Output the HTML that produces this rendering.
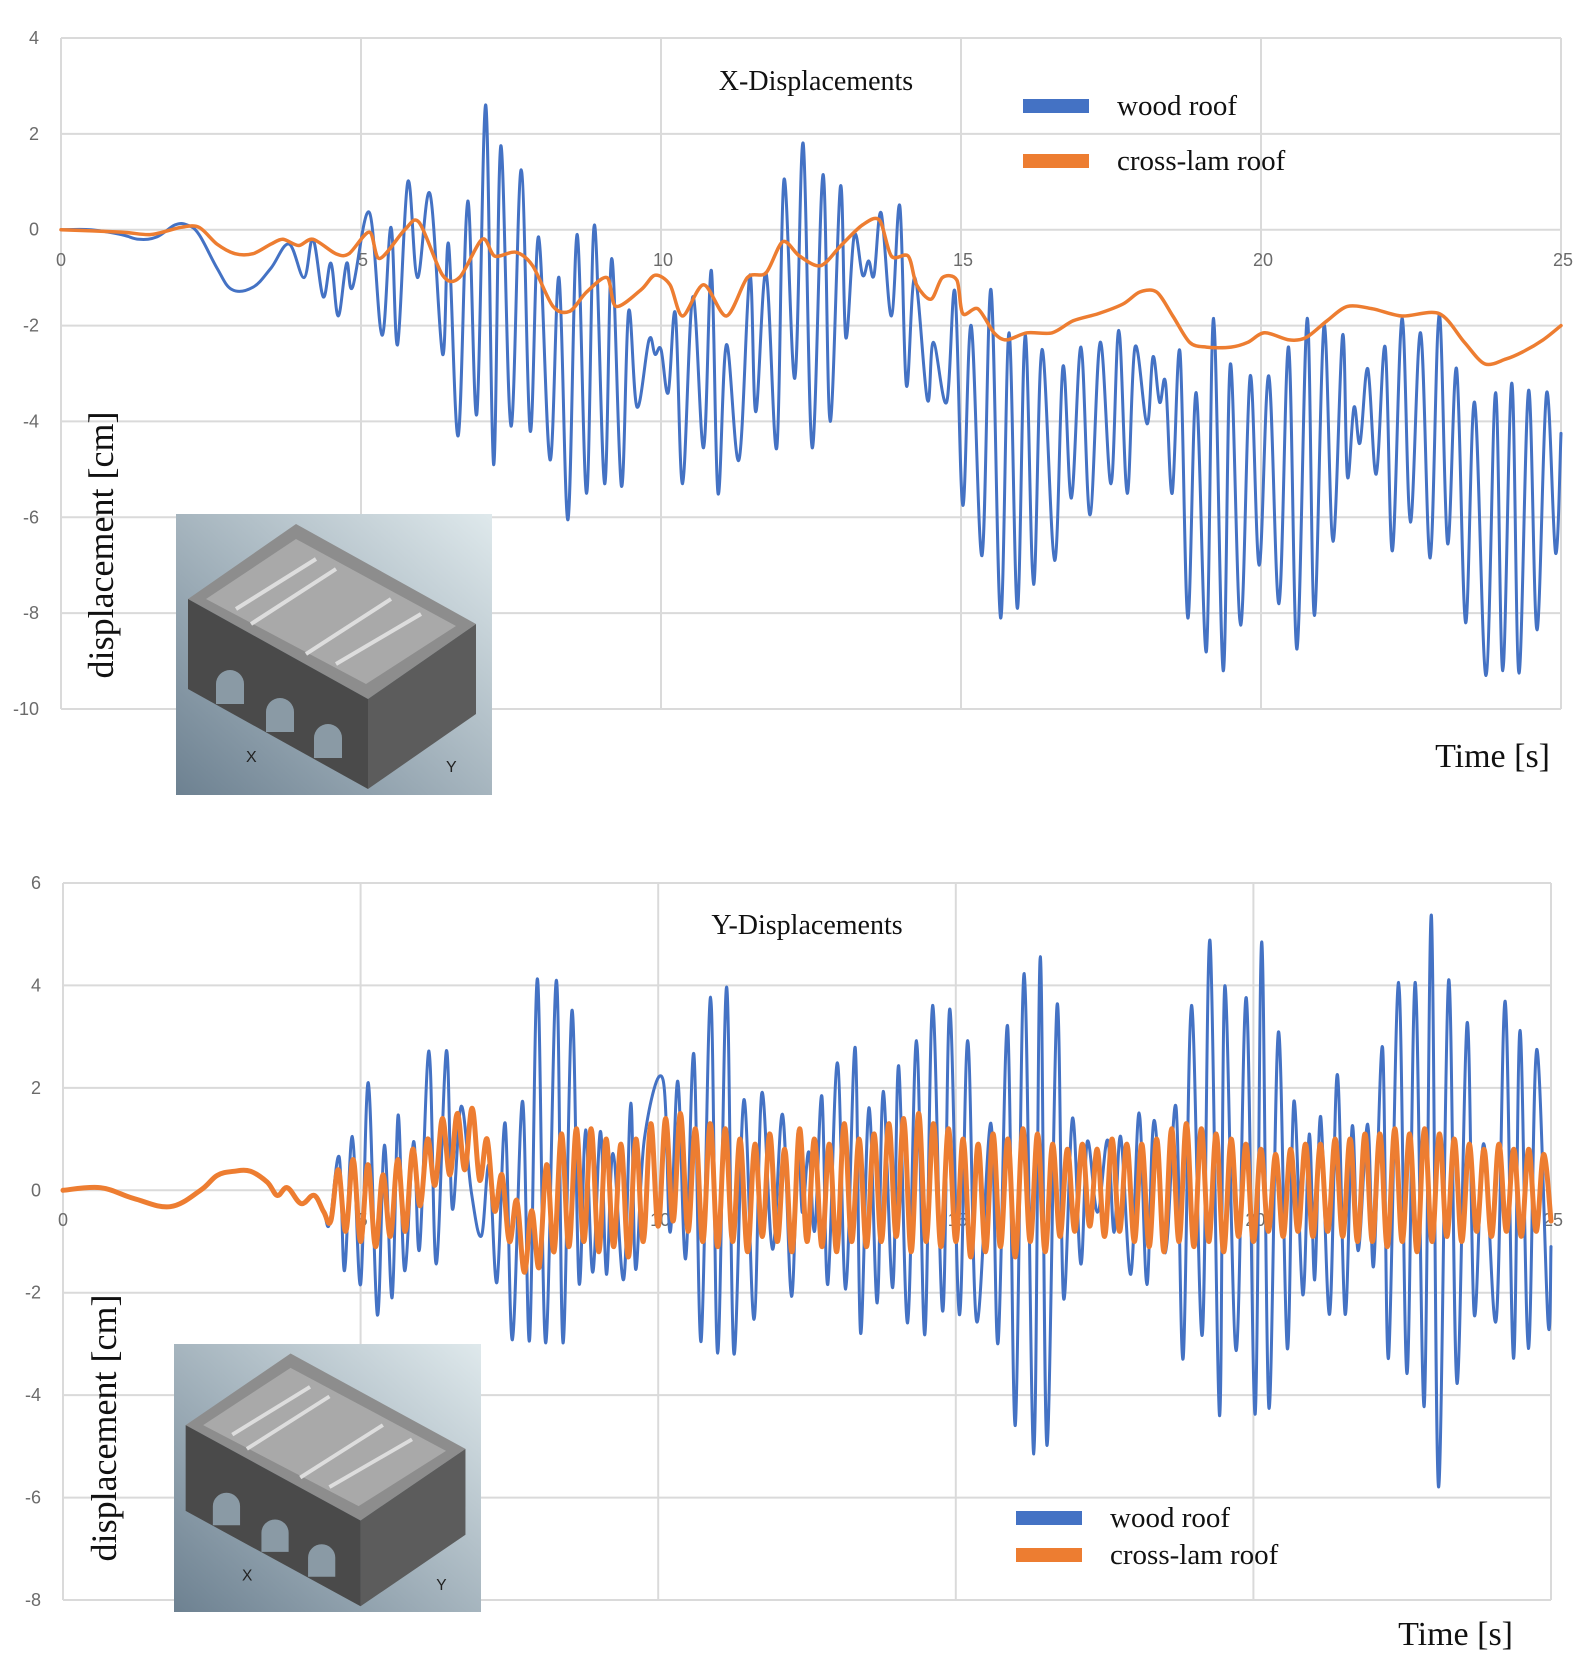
<!DOCTYPE html>
<html><head><meta charset="utf-8"><style>
html,body{margin:0;padding:0;background:#fff;}
svg{display:block;}
.tick{font-family:"Liberation Sans",sans-serif;font-size:18px;fill:#6b6b6b;}
.ser{font-family:"Liberation Serif",serif;fill:#111;}
</style></head><body>
<svg id="fig" width="1582" height="1674" viewBox="0 0 1582 1674">
<defs>
<linearGradient id="bg" x1="0" y1="1" x2="1" y2="0"><stop offset="0" stop-color="#6d8191"/><stop offset="1" stop-color="#dfe9ec"/></linearGradient>
<g id="bld">
<rect x="0" y="0" width="316" height="281" fill="url(#bg)"/>
<polygon points="12,85 120,10 300,110 192,185" fill="#8d8d8d"/>
<polygon points="12,85 192,185 192,275 12,175" fill="#4a4a4a"/>
<polygon points="192,185 300,110 300,200 192,275" fill="#5c5c5c"/>
<polygon points="30,85 120,25 280,112 190,170" fill="#a9a9a9"/>
<line x1="60" y1="95" x2="140" y2="45" stroke="#ddd" stroke-width="4"/>
<line x1="75" y1="110" x2="160" y2="55" stroke="#ddd" stroke-width="4"/>
<line x1="130" y1="140" x2="215" y2="85" stroke="#ddd" stroke-width="4"/>
<line x1="160" y1="150" x2="245" y2="100" stroke="#ddd" stroke-width="4"/>
<path d="M40,170 a14,14 0 0 1 28,0 v20 h-28z M90,198 a14,14 0 0 1 28,0 v20 h-28z M138,224 a14,14 0 0 1 28,0 v20 h-28z" fill="#8a9aa5"/>
<text x="70" y="248" font-family="Liberation Sans,sans-serif" font-size="16" fill="#222">X</text>
<text x="270" y="258" font-family="Liberation Sans,sans-serif" font-size="16" fill="#222">Y</text>
</g>
</defs>
<g id="top"></g>
<g id="bot"></g>
</svg>
<script>
// ---- X chart data (extrema) ----
const xWoodT=[0,0.5,1.0,1.3,1.6,1.9,2.1,2.3,2.6,2.85,3.2,3.5,3.8,4.05,4.2,4.37,4.5,4.62,4.76,4.86,5.14,5.35,5.5,5.61,5.78,5.94,6.15,6.36,6.46,6.62,6.78,6.93,7.08,7.21,7.33,7.5,7.67,7.82,7.96,8.15,8.3,8.45,8.6,8.76,8.89,9.06,9.18,9.34,9.46,9.6,9.8,9.9,10.0,10.12,10.24,10.36,10.53,10.71,10.84,10.95,11.09,11.3,11.48,11.58,11.75,11.93,12.05,12.23,12.37,12.52,12.7,12.82,12.99,13.08,13.22,13.36,13.46,13.55,13.67,13.84,13.98,14.09,14.23,14.44,14.54,14.76,14.9,15.03,15.17,15.35,15.5,15.66,15.8,15.94,16.07,16.21,16.35,16.56,16.7,16.84,17.0,17.15,17.32,17.5,17.63,17.77,17.9,18.1,18.2,18.31,18.41,18.52,18.65,18.78,18.92,19.09,19.21,19.37,19.49,19.66,19.82,19.97,20.13,20.3,20.46,20.6,20.77,20.89,21.05,21.2,21.36,21.44,21.55,21.65,21.78,21.92,22.07,22.19,22.35,22.49,22.66,22.82,22.97,23.11,23.26,23.41,23.56,23.75,23.91,24.03,24.18,24.3,24.46,24.6,24.76,24.91,25.0];
const xWoodV=[0,0,-0.1,-0.2,-0.15,0.1,0.1,-0.1,-0.8,-1.25,-1.2,-0.8,-0.3,-1.0,-0.2,-1.4,-0.7,-1.8,-0.7,-1.2,0.36,-2.2,0.05,-2.4,1.0,-1.0,0.75,-2.6,-0.3,-4.3,0.6,-3.85,2.6,-4.9,1.75,-4.1,1.25,-4.2,-0.15,-4.8,-1.0,-6.05,-0.1,-5.5,0.1,-5.3,-0.6,-5.35,-1.7,-3.7,-2.3,-2.6,-2.5,-3.4,-1.75,-5.3,-1.4,-4.55,-0.85,-5.5,-2.4,-4.8,-0.95,-3.8,-0.9,-4.55,1.05,-3.1,1.8,-4.55,1.15,-4.0,0.9,-2.25,-0.12,-0.95,-0.65,-0.95,0.35,-1.8,0.5,-3.25,-1.0,-3.55,-2.35,-3.6,-1.3,-5.75,-2.0,-6.8,-1.25,-8.1,-2.15,-7.9,-2.2,-7.4,-2.5,-6.9,-2.85,-5.6,-2.45,-5.95,-2.35,-5.3,-2.1,-5.5,-2.45,-4.05,-2.65,-3.6,-3.2,-5.5,-2.55,-8.1,-3.4,-8.8,-1.85,-9.2,-2.8,-8.25,-3.05,-7.0,-3.05,-7.8,-2.45,-8.75,-1.85,-8.05,-2.0,-6.5,-2.2,-5.15,-3.7,-4.45,-2.9,-5.1,-2.45,-6.7,-1.85,-6.1,-2.15,-6.85,-1.75,-6.55,-2.9,-8.2,-3.6,-9.3,-3.4,-9.2,-3.2,-9.25,-3.35,-8.35,-3.4,-6.75,-4.25];
const xLamT=[0,1,1.5,2,2.3,2.6,2.9,3.2,3.5,3.7,3.96,4.2,4.58,4.8,5.14,5.31,5.73,5.97,6.36,6.64,7.02,7.23,7.58,7.86,8.2,8.48,8.76,9.1,9.25,9.67,9.9,10.15,10.36,10.71,11.09,11.44,11.75,12.03,12.31,12.66,13.0,13.36,13.64,13.84,14.12,14.26,14.5,14.69,14.93,15.03,15.28,15.55,15.76,16.1,16.52,16.87,17.29,17.7,17.98,18.26,18.53,18.81,19.09,19.5,19.78,20.06,20.47,20.75,21.1,21.44,21.86,22.35,22.97,23.39,23.73,24.08,24.36,24.7,25.0];
const xLamV=[0,-0.05,-0.1,0.05,0.05,-0.3,-0.5,-0.5,-0.3,-0.2,-0.33,-0.2,-0.5,-0.5,-0.05,-0.6,0.0,0.15,-0.95,-1.0,-0.2,-0.55,-0.47,-0.75,-1.6,-1.7,-1.3,-1.0,-1.6,-1.25,-0.95,-1.15,-1.8,-1.15,-1.8,-1.0,-0.9,-0.25,-0.55,-0.75,-0.33,0.1,0.2,-0.55,-0.55,-1.15,-1.45,-1.0,-1.05,-1.75,-1.65,-2.15,-2.3,-2.15,-2.15,-1.9,-1.75,-1.55,-1.3,-1.3,-1.8,-2.35,-2.45,-2.45,-2.35,-2.15,-2.3,-2.25,-1.9,-1.6,-1.65,-1.8,-1.75,-2.35,-2.8,-2.7,-2.55,-2.3,-2.0];
const xTicksY=[4,2,0,-2,-4,-6,-8,-10];
const xTicksT=[0,5,10,15,20,25];

// ---- Y chart data ----
const earlyT=[0,0.63,1.19,1.8,2.31,2.59,2.87,3.15,3.43,3.6,3.77,4.0,4.22,4.38];
const earlyV=[0,0.05,-0.16,-0.32,0,0.29,0.37,0.37,0.16,-0.1,0.05,-0.26,-0.1,-0.42];
const yWoodT=[4.48,4.64,4.73,4.86,5.0,5.13,5.28,5.4,5.53,5.63,5.74,5.89,5.99,6.15,6.27,6.44,6.54,6.69,6.86,7.03,7.16,7.29,7.43,7.55,7.72,7.84,7.97,8.11,8.29,8.4,8.55,8.67,8.78,8.9,9.03,9.13,9.24,9.42,9.54,9.62,9.77,10.08,10.2,10.33,10.46,10.6,10.72,10.88,11.0,11.15,11.27,11.44,11.61,11.74,11.92,12.09,12.24,12.35,12.42,12.53,12.63,12.75,12.85,13.01,13.15,13.31,13.4,13.54,13.68,13.78,13.94,14.04,14.19,14.34,14.48,14.61,14.78,14.9,15.06,15.2,15.35,15.59,15.71,15.87,16.0,16.15,16.31,16.42,16.53,16.7,16.81,16.96,17.1,17.21,17.38,17.55,17.66,17.77,17.94,18.08,18.21,18.33,18.52,18.7,18.82,18.96,19.14,19.27,19.43,19.52,19.71,19.88,20.03,20.14,20.26,20.42,20.57,20.68,20.83,20.94,21.03,21.13,21.28,21.41,21.54,21.66,21.76,21.92,22.02,22.17,22.27,22.44,22.58,22.72,22.87,22.99,23.11,23.28,23.42,23.59,23.71,23.87,24.08,24.23,24.37,24.48,24.62,24.76,24.95,25.0];
const yWoodV=[-0.65,0.65,-1.57,1.05,-1.84,2.1,-2.43,0.88,-2.1,1.47,-1.57,0.95,-1.15,2.72,-1.44,2.72,-0.36,1.64,-0.03,-0.89,0.49,-1.8,1.31,-2.92,1.74,-2.92,4.13,-2.98,4.1,-2.98,3.51,-1.8,1.18,-1.6,1.15,-1.64,0.72,-1.74,1.7,-1.54,1.02,2.16,-0.82,2.13,-1.34,2.66,-2.95,3.77,-3.18,3.97,-3.18,1.77,-2.52,1.9,-1.15,1.48,-2.07,1.15,-0.43,0.75,-0.79,1.84,-1.84,2.49,-1.93,2.79,-2.79,1.61,-2.2,1.93,-1.9,2.43,-2.59,2.92,-2.82,3.61,-2.36,3.54,-2.43,2.92,-2.56,1.31,-2.98,3.21,-4.59,4.23,-5.15,4.56,-4.98,3.61,-2.1,1.41,-1.44,0.95,-0.43,0.98,-0.82,1.05,-1.64,1.51,-1.84,1.36,-1.22,1.63,-3.28,3.61,-2.83,4.88,-4.4,3.99,-3.13,3.76,-4.37,4.85,-4.25,3.09,-3.09,1.74,-2.04,1.1,-1.75,1.44,-2.42,2.26,-2.42,1.25,-1.18,1.29,-1.48,2.79,-3.28,4.06,-3.58,4.06,-4.22,5.37,-5.79,4.1,-3.77,3.27,-2.42,0.91,-2.53,3.69,-3.28,3.12,-3.09,2.75,-2.57,-1.1];
const yLamStart=4.5, yLamStep=0.125;
const yLamV=[-0.6,0.4,-0.8,0.6,
-1.0,0.5,-1.1,0.3,-0.9,0.6,-0.8,0.8,
-0.3,1.0,0.1,1.4,0.3,1.5,0.4,1.6,
0.2,1.0,-0.4,0.3,-1.0,-0.2,-1.6,-0.4,
-1.5,0.5,-1.2,1.1,-1.1,1.2,-1.0,1.2,
-1.2,1.0,-1.1,0.9,-1.3,1.0,-1.0,1.3,
-0.7,1.4,-0.6,1.5,-0.8,1.2,-1.0,1.3,
-1.1,1.2,-1.0,1.0,-1.2,0.9,-0.9,1.1,
-1.0,0.8,-1.2,1.2,-1.0,1.0,-1.1,0.9,
-1.2,1.3,-1.0,1.0,-1.1,1.1,-1.0,1.3,
-0.9,1.4,-1.2,1.5,-1.0,1.3,-1.1,1.2,
-1.0,1.0,-1.3,0.9,-1.2,1.1,-1.1,1.0,
-1.3,1.2,-1.0,1.1,-1.2,0.9,-0.9,0.8,
-0.8,0.9,-0.7,0.8,-0.9,1.0,-0.8,0.9,
-1.0,0.9,-1.1,1.0,-1.2,1.2,-1.0,1.3,
-1.1,1.2,-1.0,1.1,-1.2,1.0,-0.9,0.9,
-1.0,0.8,-0.8,0.7,-0.9,0.8,-0.8,0.9,
-0.9,0.9,-0.8,1.0,-0.9,1.0,-1.0,1.1,
-1.0,1.1,-1.1,1.2,-1.0,1.1,-1.2,1.2,
-1.0,1.1,-0.9,1.0,-1.0,0.9,-0.8,0.8,
-0.9,0.9,-0.8,0.8,-0.9,0.8,-0.8,0.7,-0.6];
const yTicksY=[6,4,2,0,-2,-4,-6,-8];
const yTicksT=[0,5,10,15,20,25];

const NS='http://www.w3.org/2000/svg';
function mk(tag,attrs,parent){const e=document.createElementNS(NS,tag);for(const k in attrs)e.setAttribute(k,attrs[k]);parent.appendChild(e);return e;}

function chart(g,cfg){
  const sx=t=>cfg.x0+(t-0)/25*(cfg.x1-cfg.x0);
  const sy=v=>cfg.yTop+(cfg.vMax-v)/(cfg.vMax-cfg.vMin)*(cfg.yBot-cfg.yTop);
  cfg.ticksY.forEach(v=>{
    const l=mk('line',{x1:cfg.x0,x2:cfg.x1,y1:sy(v),y2:sy(v),stroke:'#dadada','stroke-width':2},g);
    
    
    const tx=mk('text',{x:cfg.x0-22,y:sy(v)+6,'text-anchor':'end',class:'tick'},g);
    tx.textContent=String(v);
    
    
  });
  cfg.ticksT.forEach(t=>{
    const l=mk('line',{x1:sx(t),x2:sx(t),y1:cfg.yTop,y2:cfg.yBot,stroke:'#dadada','stroke-width':2},g);
    
    
  });
  return {sx,sy};
}
function line(g,sc,T,V,color,w,name,smooth){
  const P=T.map((t,i)=>[sc.sx(t),sc.sy(V[i])]);
  let d='M'+P[0][0].toFixed(1)+','+P[0][1].toFixed(1);
  for(let i=1;i<P.length;i++){
    if(smooth){
      const p0=P[Math.max(0,i-2)],p1=P[i-1],p2=P[i],p3=P[Math.min(P.length-1,i+1)];
      const k=smooth;
      const c1=[p1[0]+(p2[0]-p0[0])*k,p1[1]+(p2[1]-p0[1])*k];
      const c2=[p2[0]-(p3[0]-p1[0])*k,p2[1]-(p3[1]-p1[1])*k];
      d+='C'+c1[0].toFixed(1)+','+c1[1].toFixed(1)+' '+c2[0].toFixed(1)+','+c2[1].toFixed(1)+' '+p2[0].toFixed(1)+','+p2[1].toFixed(1);
    } else d+='L'+P[i][0].toFixed(1)+','+P[i][1].toFixed(1);
  }
  const p=mk('path',{d:d,fill:'none',stroke:color,'stroke-width':w,'stroke-linejoin':'round','stroke-linecap':'round'},g);
  
  
}
function xlabels(g,sc,ticks,y){
  ticks.forEach(t=>{
    const tx=mk('text',{x:sc.sx(t)+(t===0?0:2),y:y,'text-anchor':'middle',class:'tick'},g);
    tx.textContent=String(t);
    
    
  });
}
function txt(g,s,attrs,name){const t=mk('text',attrs,g);t.textContent=s;return t;}
function inset(g,x,y,w,h,name){
  const u=mk('use',{href:'#bld',transform:`translate(${x},${y}) scale(${w/316},${h/281})`},g);
  
  
}
function legend(g,x,y1,y2,fs,lw){
  const a=mk('line',{x1:x,x2:x+66,y1:y1,y2:y1,stroke:'#4472c4','stroke-width':lw},g);
  
  
  const b=mk('line',{x1:x,x2:x+66,y1:y2,y2:y2,stroke:'#ed7d31','stroke-width':lw},g);
  
  
  txt(g,'wood roof',{x:x+94,y:y1+9,class:'ser','font-size':fs},'legend-entry-wood');
  txt(g,'cross-lam roof',{x:x+94,y:y2+9,class:'ser','font-size':fs},'legend-entry-crosslam');
}

// top chart
const gT=document.getElementById('top');
const scT=chart(gT,{x0:61,x1:1561,yTop:38,yBot:709,vMax:4,vMin:-10,ticksY:xTicksY,ticksT:xTicksT});
xlabels(gT,scT,xTicksT,266);
line(gT,scT,xWoodT,xWoodV,'#4472c4',3,'series-wood-roof-x',0.18);
line(gT,scT,xLamT,xLamV,'#ed7d31',3.5,'series-crosslam-roof-x',0.15);
inset(gT,176,514,316,281,'building-model-inset-top');
txt(gT,'X-Displacements',{x:816,y:90,'text-anchor':'middle',class:'ser','font-size':28},'chart-title-x');
legend(gT,1023,106,161,29,14);
txt(gT,'displacement [cm]',{transform:'translate(113,545) rotate(-90)','text-anchor':'middle',class:'ser','font-size':36},'y-axis-title-top');
txt(gT,'Time [s]',{x:1550,y:767,'text-anchor':'end',class:'ser','font-size':34},'x-axis-title-top');

// bottom chart
const gB=document.getElementById('bot');
const scB=chart(gB,{x0:63,x1:1551,yTop:883,yBot:1600,vMax:6,vMin:-8,ticksY:yTicksY,ticksT:yTicksT});
xlabels(gB,scB,yTicksT,1226);
const lamT=yLamV.map((v,i)=>yLamStart+i*yLamStep);
line(gB,scB,earlyT.concat(yWoodT),earlyV.concat(yWoodV),'#4472c4',3,'series-wood-roof-y',0.18);
line(gB,scB,earlyT.concat(lamT),earlyV.concat(yLamV),'#ed7d31',5,'series-crosslam-roof-y',0.18);
inset(gB,174,1344,307,268,'building-model-inset-bottom');
txt(gB,'Y-Displacements',{x:807,y:934,'text-anchor':'middle',class:'ser','font-size':28},'chart-title-y');
legend(gB,1016,1518,1555,29,14);
txt(gB,'displacement [cm]',{transform:'translate(116,1428) rotate(-90)','text-anchor':'middle',class:'ser','font-size':36},'y-axis-title-bottom');
txt(gB,'Time [s]',{x:1513,y:1645,'text-anchor':'end',class:'ser','font-size':34},'x-axis-title-bottom');
</script>
</body></html>
